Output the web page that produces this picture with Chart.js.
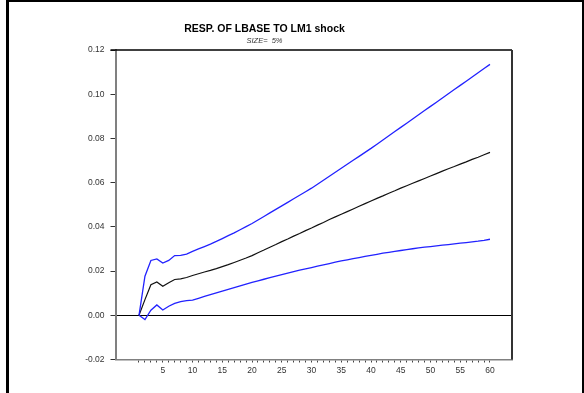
<!DOCTYPE html>
<html>
<head>
<meta charset="utf-8">
<script src="https://cdn.jsdelivr.net/npm/chart.js@4"></script>
<style>
  html, body { margin: 0; padding: 0; background: #fff; }
  #wrap { width: 584px; height: 393px; position: relative; }
</style>
</head>
<body>
<div id="wrap"><canvas id="c" width="584" height="393"></canvas></div>
<script>
// Impulse response of LBASE to an LM1 shock, with 5% bands
const horizon = Array.from({length: 60}, (_, i) => i + 1);

const response = [
  0.0000, 0.0071, 0.0138, 0.0151, 0.0131, 0.0147, 0.0162, 0.0165, 0.0171, 0.0180,
  0.0188, 0.0196, 0.0203, 0.0211, 0.0220, 0.0229, 0.0239, 0.0249, 0.0259, 0.0270,
  0.0283, 0.0295, 0.0308, 0.0320, 0.0333, 0.0345, 0.0358, 0.0370, 0.0383, 0.0395,
  0.0408, 0.0420, 0.0433, 0.0445, 0.0457, 0.0469, 0.0481, 0.0493, 0.0505, 0.0517,
  0.0529, 0.0540, 0.0552, 0.0563, 0.0575, 0.0586, 0.0597, 0.0608, 0.0619, 0.0630,
  0.0641, 0.0652, 0.0663, 0.0673, 0.0684, 0.0694, 0.0705, 0.0715, 0.0726, 0.0737
];

const upperBand = [
  0.0000, 0.0177, 0.0248, 0.0255, 0.0236, 0.0248, 0.0270, 0.0271, 0.0277, 0.0289,
  0.0300, 0.0311, 0.0322, 0.0334, 0.0347, 0.0360, 0.0373, 0.0387, 0.0401, 0.0415,
  0.0431, 0.0447, 0.0463, 0.0479, 0.0495, 0.0511, 0.0527, 0.0543, 0.0559, 0.0575,
  0.0593, 0.0611, 0.0629, 0.0647, 0.0665, 0.0683, 0.0701, 0.0719, 0.0737, 0.0755,
  0.0774, 0.0793, 0.0812, 0.0831, 0.0850, 0.0869, 0.0888, 0.0907, 0.0926, 0.0945,
  0.0964, 0.0983, 0.1002, 0.1021, 0.1040, 0.1059, 0.1078, 0.1097, 0.1116, 0.1135
];

const lowerBand = [
  0.0000, -0.0019, 0.0023, 0.0047, 0.0024, 0.0041, 0.0054, 0.0062, 0.0066, 0.0069,
  0.0077, 0.0085, 0.0093, 0.0101, 0.0109, 0.0117, 0.0125, 0.0133, 0.0141, 0.0149,
  0.0156, 0.0163, 0.0170, 0.0177, 0.0184, 0.0191, 0.0198, 0.0204, 0.0210, 0.0216,
  0.0222, 0.0228, 0.0234, 0.0240, 0.0246, 0.0251, 0.0256, 0.0261, 0.0266, 0.0271,
  0.0276, 0.0281, 0.0285, 0.0289, 0.0293, 0.0297, 0.0301, 0.0305, 0.0308, 0.0311,
  0.0314, 0.0317, 0.0320, 0.0323, 0.0326, 0.0329, 0.0332, 0.0335, 0.0339, 0.0344
];

const yTicks = [-0.02, 0.00, 0.02, 0.04, 0.06, 0.08, 0.10, 0.12];
const titleText = 'RESP. OF LBASE TO LM1 shock';
const subtitleText = 'SIZE=  5%';

const pts = arr => horizon.map((h, i) => ({x: h, y: arr[i]}));

// Page frame, plot box top/right edges and the headings
const framePlugin = {
  id: 'frame',
  afterDraw(chart) {
    const {ctx, chartArea: a} = chart;
    ctx.save();
    ctx.fillStyle = '#000';
    ctx.fillRect(6, 0, 3, 393);
    ctx.fillRect(6, 0, 578, 2);
    ctx.fillRect(582, 0, 2, 393);
    ctx.strokeStyle = '#000';
    ctx.lineWidth = 1.5;
    ctx.beginPath();
    ctx.moveTo(a.left - 5, a.top);
    ctx.lineTo(a.right, a.top);
    ctx.stroke();
    ctx.strokeStyle = '#333';
    ctx.lineWidth = 2;
    ctx.beginPath();
    ctx.moveTo(a.right, a.top);
    ctx.lineTo(a.right, a.bottom);
    ctx.stroke();
    ctx.textAlign = 'center';
    ctx.textBaseline = 'alphabetic';
    ctx.fillStyle = '#000';
    ctx.font = 'bold 10.5px "Liberation Sans", Arial, sans-serif';
    ctx.fillText(titleText, 264.5, 32);
    ctx.fillStyle = '#333';
    ctx.font = 'italic 7.5px "Liberation Sans", Arial, sans-serif';
    ctx.fillText(subtitleText, 264.5, 42.5);
    ctx.restore();
  }
};

new Chart(document.getElementById('c'), {
  type: 'line',
  data: {
    datasets: [
      {data: pts(upperBand), borderColor: '#2222ff', borderWidth: 1.3},
      {data: pts(response), borderColor: '#111', borderWidth: 1.2},
      {data: pts(lowerBand), borderColor: '#2222ff', borderWidth: 1.3}
    ]
  },
  options: {
    responsive: false,
    animation: false,
    events: [],
    layout: {padding: {left: 0, right: 72, top: 50, bottom: 0}},
    elements: {point: {radius: 0}, line: {tension: 0}},
    plugins: {legend: {display: false}, tooltip: {enabled: false}, title: {display: false}},
    scales: {
      x: {
        type: 'linear',
        min: -2.95,
        max: 63.7,
        afterFit(s) { s.height = 33.5; },
        afterBuildTicks(s) { s.ticks = horizon.map(v => ({value: v})); },
        border: {color: '#808080', width: 1.5},
        grid: {drawOnChartArea: false, tickLength: 3, tickColor: '#444', tickWidth: 1},
        ticks: {
          autoSkip: false,
          maxRotation: 0,
          padding: 3,
          color: '#333',
          font: {family: '"Liberation Sans", Arial, sans-serif', size: 8.5},
          callback: v => (v % 5 === 0 ? String(v) : '')
        }
      },
      y: {
        min: -0.02,
        max: 0.12,
        afterFit(s) { s.width = 115.5; },
        afterBuildTicks(s) { s.ticks = yTicks.map(v => ({value: v})); },
        border: {color: '#808080', width: 2},
        grid: {
          drawOnChartArea: true,
          tickLength: 5,
          tickColor: '#333',
          color: c => (c.tick && Math.abs(c.tick.value) < 1e-9 ? '#000' : 'rgba(0,0,0,0)'),
          lineWidth: 1
        },
        ticks: {
          padding: 6,
          color: '#333',
          font: {family: '"Liberation Sans", Arial, sans-serif', size: 8.5},
          callback: v => v.toFixed(2)
        }
      }
    }
  },
  plugins: [framePlugin]
});
</script>
</body>
</html>
